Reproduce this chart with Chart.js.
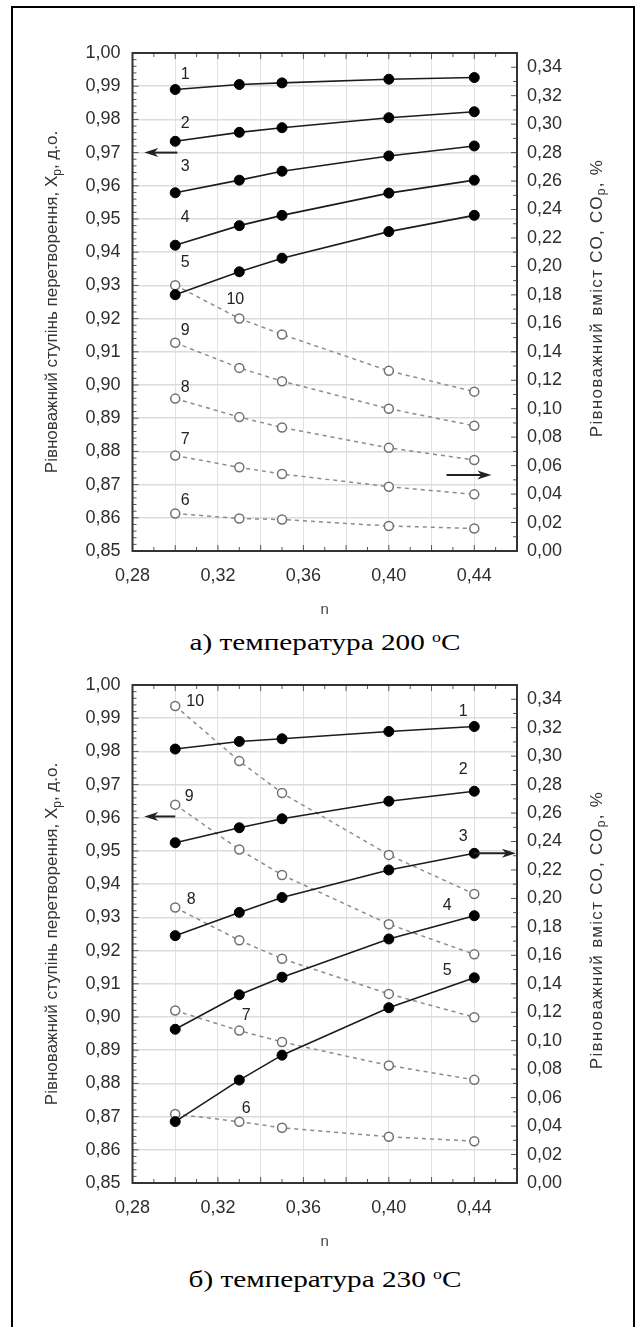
<!DOCTYPE html>
<html>
<head>
<meta charset="utf-8">
<script src="https://cdn.jsdelivr.net/npm/chart.js@4.4.1/dist/chart.umd.min.js"></script>
<style>
  body { margin: 0; background: #fff; }
  #frame { position: absolute; left: 11px; top: 6px; width: 620px; height: 1340px; border: 2px solid #000; border-bottom: none; }
  canvas { position: absolute; left: 0; }
  .caption { position: absolute; left: 0; width: 650px; text-align: center; font-family: "Liberation Serif", serif; font-size: 23px; line-height: 26px; color: #000; transform: scaleX(1.27); transform-origin: 325px 0; }
  .caption sup { font-size: 14px; vertical-align: 8px; line-height: 0; }
</style>
</head>
<body>
<div id="frame"></div>
<canvas id="chart200" width="637" height="620" style="top:0"></canvas>
<div class="caption" style="top:630px">а) температура 200 <sup>o</sup>C</div>
<canvas id="chart230" width="637" height="620" style="top:632px"></canvas>
<div class="caption" style="top:1267px">б) температура 230 <sup>o</sup>C</div>

<script>
// x values (n)
const nValues = [0.30, 0.33, 0.35, 0.40, 0.44];

// 200 C - equilibrium conversion Xp (left axis), curves 1-5
const xp200_1 = [0.9890, 0.9905, 0.9910, 0.9921, 0.9926];
const xp200_2 = [0.9734, 0.9761, 0.9775, 0.9805, 0.9823];
const xp200_3 = [0.9579, 0.9617, 0.9644, 0.9690, 0.9720];
const xp200_4 = [0.9421, 0.9480, 0.9511, 0.9578, 0.9617];
const xp200_5 = [0.9272, 0.9341, 0.9382, 0.9462, 0.9511];
// 200 C - equilibrium CO content, % (right axis), curves 6-10
const co200_6 = [0.0264, 0.0228, 0.0221, 0.0176, 0.0158];
const co200_7 = [0.0671, 0.0588, 0.0541, 0.0452, 0.0398];
const co200_8 = [0.1071, 0.0941, 0.0868, 0.0725, 0.0640];
const co200_9 = [0.1464, 0.1287, 0.1193, 0.1000, 0.0880];
const co200_10 = [0.1868, 0.1634, 0.1522, 0.1266, 0.1120];

// 230 C
const xp230_1 = [0.9807, 0.9830, 0.9838, 0.9860, 0.9875];
const xp230_2 = [0.9525, 0.9570, 0.9597, 0.9650, 0.9680];
const xp230_3 = [0.9245, 0.9315, 0.9360, 0.9443, 0.9493];
const xp230_4 = [0.8963, 0.9067, 0.9120, 0.9235, 0.9305];
const xp230_5 = [0.8685, 0.8810, 0.8885, 0.9028, 0.9118];
const co230_6 = [0.0485, 0.0431, 0.0388, 0.0325, 0.0294];
const co230_7 = [0.1212, 0.1071, 0.0991, 0.0826, 0.0725];
const co230_8 = [0.1936, 0.1706, 0.1576, 0.1329, 0.1165];
const co230_9 = [0.2659, 0.2344, 0.2165, 0.1819, 0.1607];
const co230_10 = [0.3353, 0.2965, 0.2741, 0.2306, 0.2031];

// axis tick labels
const xTickLabels = ['0,28', '0,32', '0,36', '0,40', '0,44'];

// curve numbers: where to write them (dataset index, point index, offset in px)
const labels200 = [
  { text: '1', ds: 0, i: 0, dx: 10, dy: -15 },
  { text: '2', ds: 1, i: 0, dx: 10, dy: -18 },
  { text: '3', ds: 2, i: 0, dx: 10, dy: -26 },
  { text: '4', ds: 3, i: 0, dx: 10, dy: -28 },
  { text: '5', ds: 4, i: 0, dx: 10, dy: -32 },
  { text: '6', ds: 5, i: 0, dx: 10, dy: -13 },
  { text: '7', ds: 6, i: 0, dx: 10, dy: -16 },
  { text: '8', ds: 7, i: 0, dx: 10, dy: -11 },
  { text: '9', ds: 8, i: 0, dx: 10, dy: -12 },
  { text: '10', ds: 9, i: 1, dx: -4, dy: -19 }
];
const labels230 = [
  { text: '1', ds: 0, i: 4, dx: -11, dy: -15 },
  { text: '2', ds: 1, i: 4, dx: -11, dy: -22 },
  { text: '3', ds: 2, i: 4, dx: -11, dy: -17 },
  { text: '4', ds: 3, i: 4, dx: -27, dy: -10 },
  { text: '5', ds: 4, i: 4, dx: -27, dy: -7 },
  { text: '6', ds: 5, i: 1, dx: 7, dy: -13 },
  { text: '7', ds: 6, i: 1, dx: 7, dy: -15 },
  { text: '8', ds: 7, i: 0, dx: 16, dy: -8 },
  { text: '9', ds: 8, i: 0, dx: 14, dy: -8 },
  { text: '10', ds: 9, i: 0, dx: 20, dy: -4 }
];

// arrows pointing at the axis each family belongs to (data coordinates)
const arrows200 = [
  { axis: 'y', y: 0.970, from: 0.301, to: 0.2855 },
  { axis: 'y2', y: 0.0535, from: 0.427, to: 0.448 }
];
const arrows230 = [
  { axis: 'y', y: 0.9604, from: 0.300, to: 0.2855 },
  { axis: 'y', y: 0.9493, from: 0.4395, to: 0.4595 }
];

const tickFont = { family: '"Liberation Sans", Arial, sans-serif', size: 18 };
const comma = v => v.toFixed(2).replace('.', ',');

function toPoints(values) {
  return nValues.map((n, i) => ({ x: n, y: values[i] }));
}

function solidSet(label, values) {
  return {
    label: label, data: toPoints(values), yAxisID: 'y',
    borderColor: '#1c1c1c', borderWidth: 1.6,
    pointRadius: 5, pointBackgroundColor: '#000', pointBorderColor: '#000', pointBorderWidth: 1
  };
}

function dashedSet(label, values) {
  return {
    label: label, data: toPoints(values), yAxisID: 'y2',
    borderColor: '#8c8c8c', borderWidth: 1.5, borderDash: [4, 4],
    pointRadius: 4.5, pointBackgroundColor: '#fff', pointBorderColor: '#707070', pointBorderWidth: 1.5
  };
}

// box around the plot with small inward ticks
const frameTicks = {
  id: 'frameTicks',
  afterDatasetsDraw(chart) {
    const { ctx, chartArea: a, scales } = chart;
    const line = (x1, y1, x2, y2) => { ctx.beginPath(); ctx.moveTo(x1, y1); ctx.lineTo(x2, y2); ctx.stroke(); };
    ctx.save();
    ctx.strokeStyle = '#555';
    ctx.lineWidth = 1;
    for (let k = 0; k <= 75; k++) {
      const y = scales.y.getPixelForValue(0.85 + k * 0.002);
      line(a.left, y, a.left + (k % 5 === 0 ? 6 : 4), y);
    }
    for (let k = 0; k <= 35; k++) {
      const y = scales.y2.getPixelForValue(k * 0.01);
      line(a.right - (k % 2 === 0 ? 6 : 4), y, a.right, y);
    }
    for (let k = 0; k <= 18; k++) {
      const x = scales.x.getPixelForValue(0.28 + k * 0.01);
      const len = k % 2 === 0 ? 6 : 4;
      line(x, a.top, x, a.top + len);
      line(x, a.bottom - len, x, a.bottom);
    }
    ctx.strokeStyle = '#333';
    ctx.lineWidth = 2;
    ctx.strokeRect(a.left, a.top, a.right - a.left, a.bottom - a.top);
    ctx.restore();
  }
};

// vertical axis titles (both read bottom-to-top, with subscript)
function drawVertTitle(ctx, cx, cy, parts, spacing) {
  const font = '17px "Liberation Sans", Arial, sans-serif';
  const subFont = '12px "Liberation Sans", Arial, sans-serif';
  ctx.save();
  ctx.translate(cx, cy);
  ctx.rotate(-Math.PI / 2);
  ctx.fillStyle = '#333';
  ctx.textBaseline = 'middle';
  ctx.textAlign = 'left';
  if ('letterSpacing' in ctx) ctx.letterSpacing = spacing + 'px';
  let total = 0;
  parts.forEach(p => { ctx.font = p.sub ? subFont : font; total += ctx.measureText(p.t).width; });
  let x = -total / 2;
  parts.forEach(p => {
    ctx.font = p.sub ? subFont : font;
    ctx.fillText(p.t, x, p.sub ? 5 : 0);
    x += ctx.measureText(p.t).width;
  });
  ctx.restore();
}

const axisTitles = {
  id: 'axisTitles',
  afterDraw(chart) {
    const { ctx, chartArea: a } = chart;
    const cy = (a.top + a.bottom) / 2;
    drawVertTitle(ctx, a.left - 80, cy, [
      { t: 'Рівноважний ступінь перетворення, X' }, { t: 'р', sub: true }, { t: ', д.о.' }
    ], 0);
    drawVertTitle(ctx, a.right + 80, cy - 4, [
      { t: 'Рівноважний вміст СО, СО' }, { t: 'р', sub: true }, { t: ', %' }
    ], 1.3);
  }
};

function makeAnnotations(items, arrows) {
  return {
    id: 'annotations',
    afterDatasetsDraw(chart) {
      const ctx = chart.ctx;
      ctx.save();
      ctx.font = '16px "Liberation Sans", Arial, sans-serif';
      ctx.fillStyle = '#222';
      ctx.textAlign = 'center';
      ctx.textBaseline = 'middle';
      items.forEach(it => {
        const pt = chart.getDatasetMeta(it.ds).data[it.i];
        ctx.fillText(it.text, pt.x + it.dx, pt.y + it.dy);
      });
      ctx.strokeStyle = '#222';
      ctx.lineWidth = 2;
      arrows.forEach(ar => {
        const y = chart.scales[ar.axis].getPixelForValue(ar.y);
        const x1 = chart.scales.x.getPixelForValue(ar.from);
        const x2 = chart.scales.x.getPixelForValue(ar.to);
        const dir = Math.sign(x2 - x1);
        ctx.beginPath(); ctx.moveTo(x1, y); ctx.lineTo(x2 - dir * 8, y); ctx.stroke();
        ctx.beginPath();
        ctx.moveTo(x2, y);
        ctx.lineTo(x2 - dir * 14, y - 4.5);
        ctx.lineTo(x2 - dir * 10, y);
        ctx.lineTo(x2 - dir * 14, y + 4.5);
        ctx.closePath();
        ctx.fill();
      });
      ctx.restore();
    }
  };
}

function buildChart(canvasId, solid, dashed, items, arrows) {
  const datasets = [];
  solid.forEach((v, k) => datasets.push(solidSet(String(k + 1), v)));
  dashed.forEach((v, k) => datasets.push(dashedSet(String(k + 6), v)));
  return new Chart(document.getElementById(canvasId), {
    type: 'line',
    data: { datasets: datasets },
    options: {
      responsive: false,
      animation: false,
      devicePixelRatio: 1,
      layout: { padding: { top: 53, left: 0, right: 0, bottom: 0 } },
      plugins: { legend: { display: false }, tooltip: { enabled: false } },
      scales: {
        x: {
          type: 'linear', position: 'bottom', min: 0.28, max: 0.46,
          afterFit: s => { s.height = 69; },
          border: { display: false },
          grid: { color: '#e2e2e2', lineWidth: 1, drawTicks: false },
          ticks: {
            stepSize: 0.02, padding: 14, maxRotation: 0, autoSkip: false, includeBounds: false,
            color: '#2e2e2e', font: tickFont,
            callback: v => {
              const lbl = comma(v);
              return xTickLabels.includes(lbl) ? lbl : '';
            }
          },
          title: { display: true, text: 'n', color: '#444', font: { family: '"Liberation Sans", Arial, sans-serif', size: 15 }, padding: { top: 0, bottom: 1 } }
        },
        y: {
          position: 'left', min: 0.85, max: 1.00,
          afterFit: s => { s.width = 132.5; },
          border: { display: false },
          grid: { color: '#dcdcdc', lineWidth: 1.5, drawTicks: false },
          ticks: { stepSize: 0.01, padding: 12, color: '#2e2e2e', font: tickFont, callback: v => comma(v) }
        },
        y2: {
          position: 'right', min: 0, max: 0.35,
          afterFit: s => { s.width = 120; },
          border: { display: false },
          grid: { drawOnChartArea: false, drawTicks: false },
          ticks: { stepSize: 0.02, padding: 10, includeBounds: false, color: '#2e2e2e', font: tickFont, callback: v => comma(v) }
        }
      }
    },
    plugins: [frameTicks, makeAnnotations(items, arrows), axisTitles]
  });
}

buildChart('chart200',
  [xp200_1, xp200_2, xp200_3, xp200_4, xp200_5],
  [co200_6, co200_7, co200_8, co200_9, co200_10],
  labels200, arrows200);

buildChart('chart230',
  [xp230_1, xp230_2, xp230_3, xp230_4, xp230_5],
  [co230_6, co230_7, co230_8, co230_9, co230_10],
  labels230, arrows230);
</script>
</body>
</html>
